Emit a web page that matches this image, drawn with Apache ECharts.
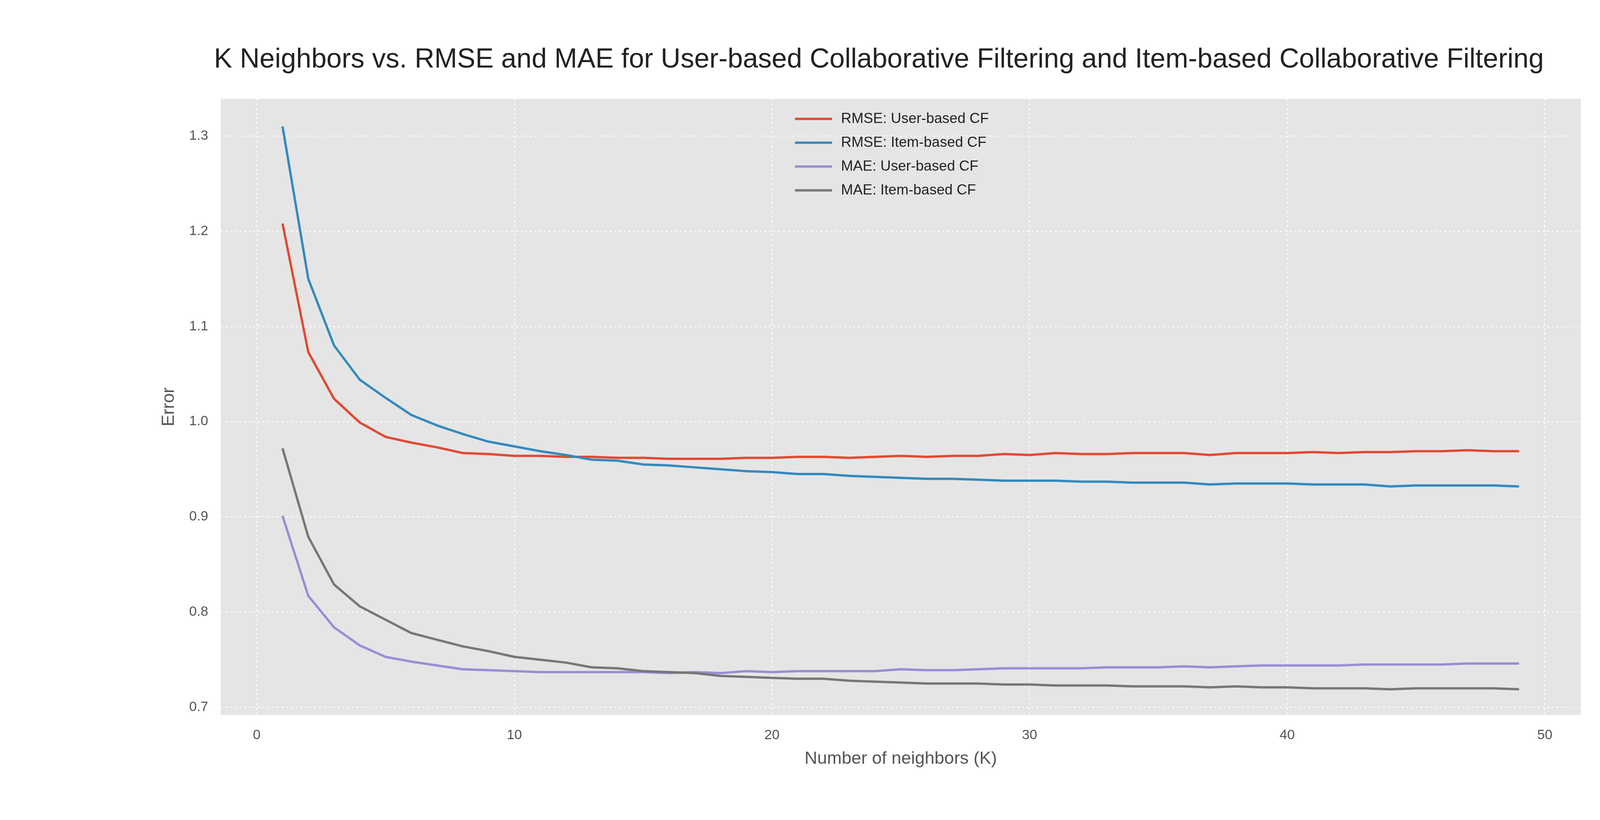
<!DOCTYPE html>
<html>
<head>
<meta charset="utf-8">
<script src="https://cdn.jsdelivr.net/npm/echarts@6/dist/echarts.min.js"></script>
<style>html,body{margin:0;padding:0;background:#fff}#chart{width:4500px;height:2100px}</style>
</head>
<body>
<div id="chart"></div>
<script>
const kValues = Array.from({ length: 49 }, (_, i) => i + 1);
const rmseUser = [1.208, 1.073, 1.024, 0.999, 0.984, 0.978, 0.973, 0.967, 0.966, 0.964, 0.964, 0.963, 0.963, 0.962, 0.962, 0.961, 0.961, 0.961, 0.962, 0.962, 0.963, 0.963, 0.962, 0.963, 0.964, 0.963, 0.964, 0.964, 0.966, 0.965, 0.967, 0.966, 0.966, 0.967, 0.967, 0.967, 0.965, 0.967, 0.967, 0.967, 0.968, 0.967, 0.968, 0.968, 0.969, 0.969, 0.970, 0.969, 0.969];
const rmseItem = [1.310, 1.150, 1.080, 1.044, 1.025, 1.007, 0.996, 0.987, 0.979, 0.974, 0.969, 0.965, 0.960, 0.959, 0.955, 0.954, 0.952, 0.950, 0.948, 0.947, 0.945, 0.945, 0.943, 0.942, 0.941, 0.940, 0.940, 0.939, 0.938, 0.938, 0.938, 0.937, 0.937, 0.936, 0.936, 0.936, 0.934, 0.935, 0.935, 0.935, 0.934, 0.934, 0.934, 0.932, 0.933, 0.933, 0.933, 0.933, 0.932];
const maeUser = [0.901, 0.817, 0.784, 0.765, 0.753, 0.748, 0.744, 0.740, 0.739, 0.738, 0.737, 0.737, 0.737, 0.737, 0.737, 0.736, 0.737, 0.736, 0.738, 0.737, 0.738, 0.738, 0.738, 0.738, 0.740, 0.739, 0.739, 0.740, 0.741, 0.741, 0.741, 0.741, 0.742, 0.742, 0.742, 0.743, 0.742, 0.743, 0.744, 0.744, 0.744, 0.744, 0.745, 0.745, 0.745, 0.745, 0.746, 0.746, 0.746];
const maeItem = [0.972, 0.879, 0.829, 0.806, 0.792, 0.778, 0.771, 0.764, 0.759, 0.753, 0.750, 0.747, 0.742, 0.741, 0.738, 0.737, 0.736, 0.733, 0.732, 0.731, 0.730, 0.730, 0.728, 0.727, 0.726, 0.725, 0.725, 0.725, 0.724, 0.724, 0.723, 0.723, 0.723, 0.722, 0.722, 0.722, 0.721, 0.722, 0.721, 0.721, 0.720, 0.720, 0.720, 0.719, 0.720, 0.720, 0.720, 0.720, 0.719];
const xTicks = [0, 10, 20, 30, 40, 50];
const yTicks = [0.7, 0.8, 0.9, 1.0, 1.1, 1.2, 1.3];

const seriesDefs = [
    { name: 'RMSE: User-based CF', data: rmseUser, color: '#E24A33' },
    { name: 'RMSE: Item-based CF', data: rmseItem, color: '#348ABD' },
    { name: 'MAE: User-based CF', data: maeUser, color: '#988ED5' },
    { name: 'MAE: Item-based CF', data: maeItem, color: '#777777' },
];

const font = 'Liberation Sans, Arial, sans-serif';
const gridLine = { show: true, lineStyle: { color: '#ffffff', type: [4, 8], width: 3 } };

const chart = echarts.init(document.getElementById('chart'));
chart.setOption({
    animation: false,
    backgroundColor: '#ffffff',
    title: {
        text: 'K Neighbors vs. RMSE and MAE for User-based Collaborative Filtering and Item-based Collaborative Filtering',
        left: 'center', top: 114,
        textStyle: { fontFamily: font, fontSize: 70, fontWeight: 'normal', color: '#222' }
    },
    legend: {
        left: 2030, top: 281, orient: 'vertical', itemGap: 24,
        itemWidth: 95, itemHeight: 6, icon: 'rect',
        textStyle: { fontFamily: font, fontSize: 37, color: '#222', padding: [0, 0, 0, 18] },
        data: seriesDefs.map(s => s.name)
    },
    grid: { left: 565, right: 453, top: 253, bottom: 269, show: true, backgroundColor: '#E5E5E5', borderWidth: 0 },
    xAxis: {
        type: 'value', min: -1.4, max: 51.4,
        name: 'Number of neighbors (K)', nameLocation: 'middle', nameGap: 90,
        nameTextStyle: { fontFamily: font, fontSize: 45, color: '#555' },
        axisLine: { show: false },
        axisTick: { show: false, customValues: xTicks },
        axisLabel: { customValues: xTicks, fontFamily: font, fontSize: 35, color: '#555', margin: 35 },
        splitLine: gridLine
    },
    yAxis: {
        type: 'value', min: 0.692, max: 1.339,
        name: 'Error', nameLocation: 'middle', nameGap: 110,
        nameTextStyle: { fontFamily: font, fontSize: 45, color: '#555' },
        axisLine: { show: false },
        axisTick: { show: false, customValues: yTicks },
        axisLabel: { customValues: yTicks, fontFamily: font, fontSize: 35, color: '#555', margin: 32, formatter: v => v.toFixed(1) },
        splitLine: gridLine
    },
    series: seriesDefs.map(s => ({
        name: s.name, type: 'line', showSymbol: false, symbol: 'none',
        data: kValues.map((k, i) => [k, s.data[i]]),
        lineStyle: { color: s.color, width: 6 },
        itemStyle: { color: s.color }
    }))
});
</script>
</body>
</html>
